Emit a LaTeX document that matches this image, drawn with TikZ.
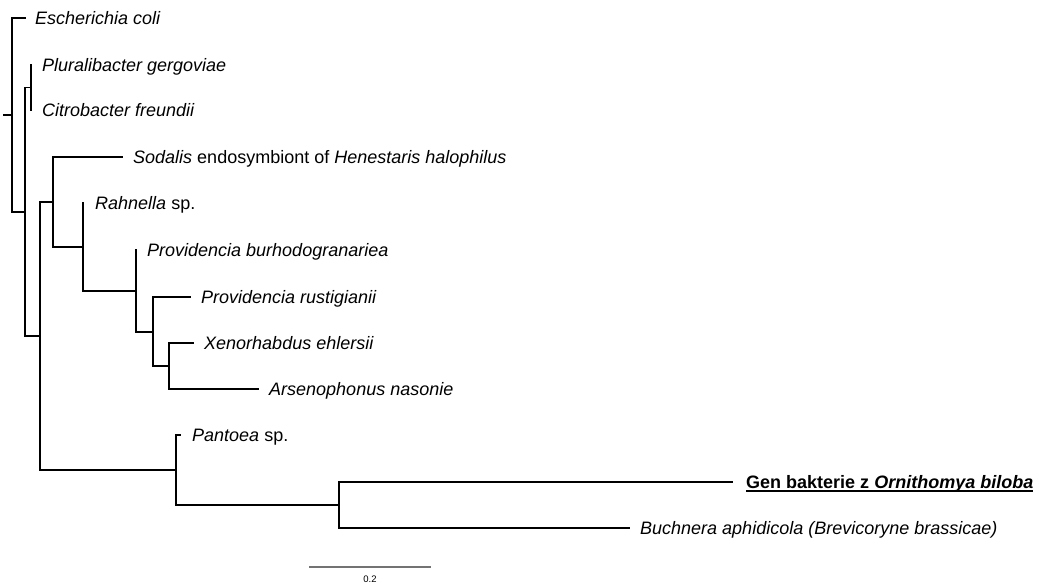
\documentclass[tikz,border=0pt]{standalone}
\usepackage{fontspec}
\setmainfont{Liberation Sans}
\begin{document}
\begin{tikzpicture}[x=1pt,y=-1pt,
  br/.style={line width=1.5pt,line join=miter,line cap=rect},
  tip/.style={anchor=base west,inner sep=0pt,yshift=-6.3pt,font=\fontsize{18}{20}\selectfont}]
\useasboundingbox (0,0) rectangle (1039,585);
% internal nodes
\coordinate (r0) at (4,115);
\coordinate (n1) at (12,115);
\coordinate (n2) at (25,212);
\coordinate (n3) at (31,87.5);
\coordinate (n4) at (40,336);
\coordinate (n5) at (53,202);
\coordinate (n7) at (83,247);
\coordinate (n8) at (136,291);
\coordinate (n9) at (153,332);
\coordinate (n10) at (169,366);
\coordinate (n6) at (176,470);
\coordinate (n11) at (339,505);
% tips
\coordinate (tEc) at (25,18);
\coordinate (tPl) at (31,65);
\coordinate (tCi) at (31,110);
\coordinate (tSo) at (122,157);
\coordinate (tRa) at (83,203);
\coordinate (tPb) at (136,250);
\coordinate (tPr) at (190,297);
\coordinate (tXe) at (193,343);
\coordinate (tAr) at (258,389);
\coordinate (tPa) at (180,435);
\coordinate (tGe) at (732,482);
\coordinate (tBu) at (629,528);
% branches
\draw[br] (r0) -- (n1);
\draw[br] (n1) |- (tEc);
\draw[br] (n1) |- (n2);
\draw[br] (n2) |- (n3);
\draw[br] (n2) |- (n4);
\draw[br] (n3) |- (tPl);
\draw[br] (n3) |- (tCi);
\draw[br] (n4) |- (n5);
\draw[br] (n4) |- (n6);
\draw[br] (n5) |- (tSo);
\draw[br] (n5) |- (n7);
\draw[br] (n7) |- (tRa);
\draw[br] (n7) |- (n8);
\draw[br] (n8) |- (tPb);
\draw[br] (n8) |- (n9);
\draw[br] (n9) |- (tPr);
\draw[br] (n9) |- (n10);
\draw[br] (n10) |- (tXe);
\draw[br] (n10) |- (tAr);
\draw[br] (n6) |- (tPa);
\draw[br] (n6) |- (n11);
\draw[br] (n11) |- (tGe);
\draw[br] (n11) |- (tBu);
% labels
\node[tip] (lEc) at (35,18) {\textit{Escherichia coli}};
\node[tip] (lPl) at (42,65) {\textit{Pluralibacter gergoviae}};
\node[tip] (lCi) at (42,110) {\textit{Citrobacter freundii}};
\node[tip] (lSo) at (133,157) {\textit{Sodalis} endosymbiont of \textit{Henestaris halophilus}};
\node[tip] (lRa) at (95,203) {\textit{Rahnella} sp.};
\node[tip] (lPb) at (147,250) {\textit{Providencia burhodogranariea}};
\node[tip] (lPr) at (201,297) {\textit{Providencia rustigianii}};
\node[tip] (lXe) at (204,343) {\textit{Xenorhabdus ehlersii}};
\node[tip] (lAr) at (269,389) {\textit{Arsenophonus nasonie}};
\node[tip] (lPa) at (192,435) {\textit{Pantoea} sp.};
\node[tip] (lGe) at (746,482) {\textbf{Gen bakterie z \textit{Ornithomya biloba}}};
\node[tip] (lBu) at (640,528) {\textit{Buchnera aphidicola (Brevicoryne brassicae)}};
\draw[line width=1.8pt] ([yshift=-3pt]lGe.base west) -- ([yshift=-3pt]lGe.base east);
% scale bar
\coordinate (sb1) at (309,567);
\coordinate (sb2) at (431,567);
\draw[line width=1.3pt,draw=black!55] (sb1) -- (sb2);
\node[font=\fontsize{9.5}{10}\selectfont,inner sep=0pt] (sbl) at (370,579) {0.2};
\end{tikzpicture}
\end{document}
